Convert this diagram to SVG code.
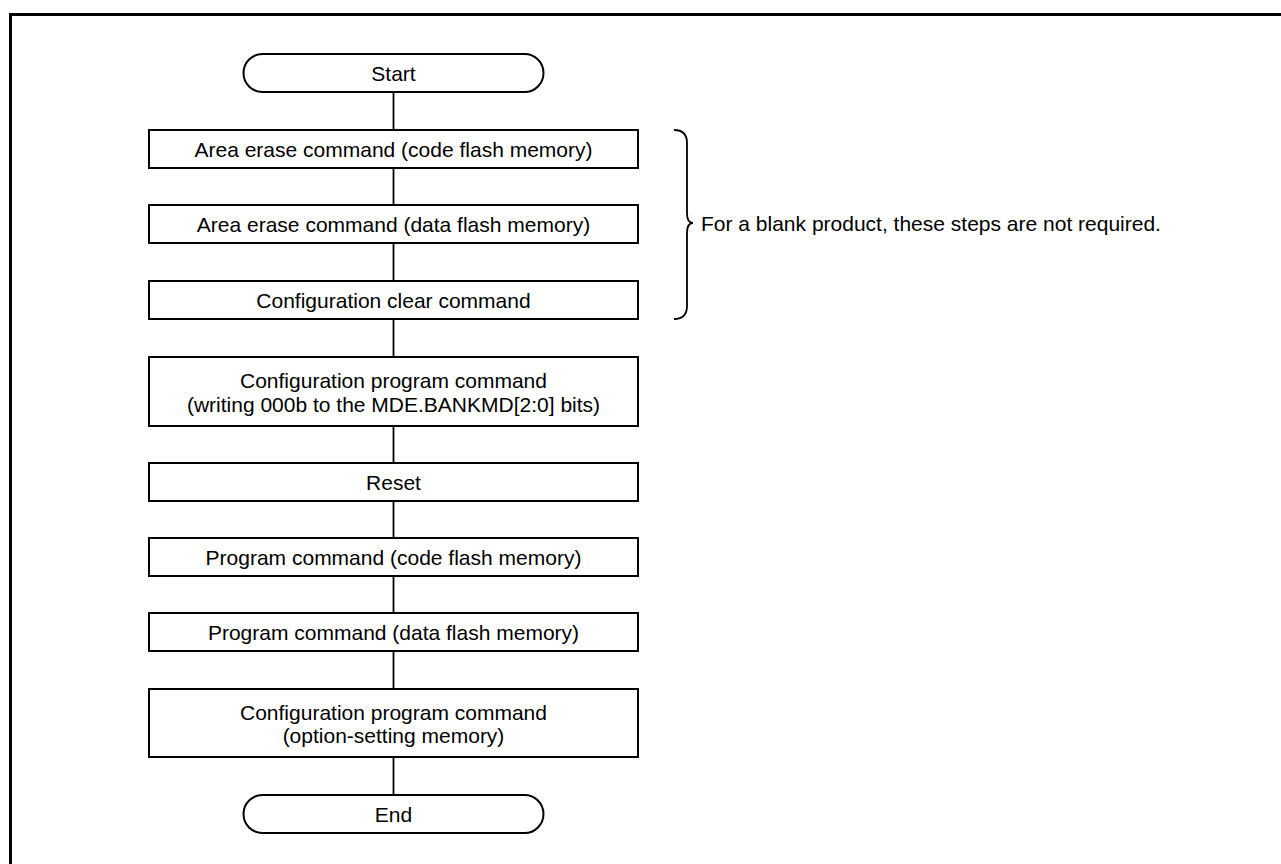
<svg xmlns="http://www.w3.org/2000/svg" width="1281" height="864" viewBox="0 0 1281 864">
  <style>
    .frame { fill: none; stroke: #000; stroke-width: 3; }
    .box { fill: #fff; stroke: #000; stroke-width: 2; }
    .wire { fill: none; stroke: #000; stroke-width: 1.8; }
    .lbl { font-family: "Liberation Sans", Arial, sans-serif; font-size: 21px; fill: #000; text-anchor: middle; }
    .note { font-family: "Liberation Sans", Arial, sans-serif; font-size: 21px; fill: #000; }
  </style>
  <rect width="1281" height="864" fill="#fff"/>
  <!-- outer frame (right and bottom edges run past the page) -->
  <rect class="frame" x="10.5" y="14.5" width="1300" height="880"/>

  <!-- vertical flow line behind the steps, and the brace grouping the optional steps -->
  <g id="connectors">
    <line class="wire" x1="393.5" y1="92" x2="393.5" y2="795"/>
    <path class="wire" d="M674,130 Q687,130 687,143 L687,213 Q687,223 693,223 Q687,223 687,233 L687,306 Q687,319 674,319"/>
  </g>

  <g id="start">
    <rect class="box" x="243.5" y="54" width="300" height="38" rx="19" ry="19"/>
    <text class="lbl" x="393.5" y="80.5">Start</text>
  </g>
  <g id="erase-code">
    <rect class="box" x="149" y="130" width="489" height="38"/>
    <text class="lbl" x="393.5" y="156.5">Area erase command (code flash memory)</text>
  </g>
  <g id="erase-data">
    <rect class="box" x="149" y="205" width="489" height="38"/>
    <text class="lbl" x="393.5" y="231.5">Area erase command (data flash memory)</text>
  </g>
  <g id="config-clear">
    <rect class="box" x="149" y="281" width="489" height="38"/>
    <text class="lbl" x="393.5" y="307.5">Configuration clear command</text>
  </g>
  <g id="config-bankmd">
    <rect class="box" x="149" y="357" width="489" height="69"/>
    <text class="lbl" x="393.5" y="388">Configuration program command</text>
    <text class="lbl" x="393.5" y="411.5">(writing 000b to the MDE.BANKMD[2:0] bits)</text>
  </g>
  <g id="reset">
    <rect class="box" x="149" y="463" width="489" height="38"/>
    <text class="lbl" x="393.5" y="489.5">Reset</text>
  </g>
  <g id="program-code">
    <rect class="box" x="149" y="538" width="489" height="38"/>
    <text class="lbl" x="393.5" y="564.5">Program command (code flash memory)</text>
  </g>
  <g id="program-data">
    <rect class="box" x="149" y="613" width="489" height="38"/>
    <text class="lbl" x="393.5" y="639.5">Program command (data flash memory)</text>
  </g>
  <g id="config-option">
    <rect class="box" x="149" y="689" width="489" height="68"/>
    <text class="lbl" x="393.5" y="719.5">Configuration program command</text>
    <text class="lbl" x="393.5" y="743">(option-setting memory)</text>
  </g>
  <g id="end">
    <rect class="box" x="243.5" y="795" width="300" height="38" rx="19" ry="19"/>
    <text class="lbl" x="393.5" y="821.5">End</text>
  </g>

  <g id="note">
    <text class="note" x="701" y="230.5">For a blank product, these steps are not required.</text>
  </g>
</svg>
